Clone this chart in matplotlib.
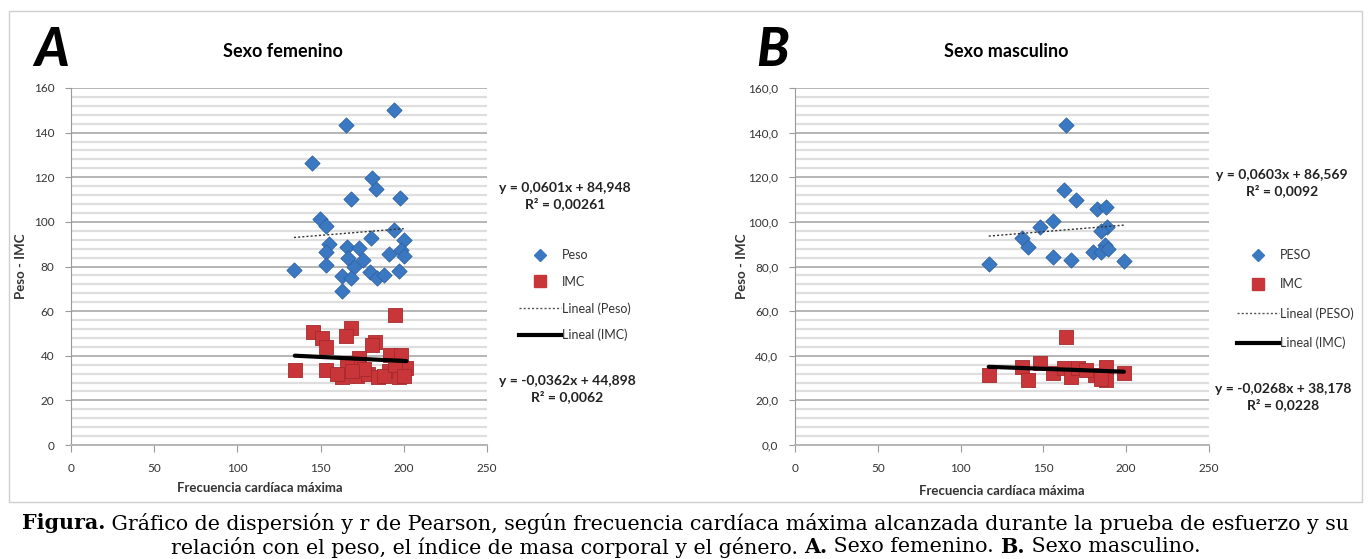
import numpy as np
import matplotlib.pyplot as plt
from matplotlib.lines import Line2D
from matplotlib.patches import Rectangle

# panel A - sexo femenino
fem_fc_peso = [194, 165, 145, 180.6, 183, 168, 198, 149.5, 153, 194, 180, 200, 155, 166, 173,
               153, 191, 198.6, 200, 166.5, 175.5, 170, 153, 134, 179.6, 197, 162.6, 183.6, 188,
               168, 162.6]
fem_peso = [150.2, 143.2, 126.3, 119.6, 114.8, 110.2, 110.9, 101.3, 98.2, 96.4, 92.7, 91.9, 90.1,
            88.9, 88.2, 86.7, 85.6, 87.4, 84.9, 83.7, 82.7, 80, 80.7, 78.5, 77.7, 78.2, 75.9,
            74.7, 76.2, 75, 69]
fem_fc_imc = [194.6, 145.5, 168, 150.6, 165, 153.5, 182.6, 181, 191.6, 198.6, 173, 134.5, 153.5,
              165.6, 162.6, 171.6, 178.6, 184.6, 191, 197, 201.6, 160, 176, 188, 195, 200, 169]
fem_imc = [58.3, 50.8, 52.3, 47.8, 49, 44.1, 46.3, 44.8, 40.4, 40.4, 38.9, 33.6, 33.6,
           36.6, 30.3, 30.9, 32, 30.3, 33, 30.3, 34.4, 32, 34, 31, 36, 31, 33]

# panel B - sexo masculino
mas_fc_peso = [163.6, 162.6, 169.7, 182.4, 187.9, 155.6, 147.9, 188.5, 184.8, 136.8, 140.8,
               186.9, 179.8, 184.8, 189.3, 155.6, 166.7, 198.6, 117]
mas_peso = [143.2, 114.3, 109.9, 105.8, 106.6, 100.2, 97.6, 97.9, 96.1, 92.7, 88.9,
            89.7, 86.7, 86.7, 87.7, 84.4, 83, 82.6, 81.2]
mas_fc_imc = [163.6, 136.8, 140.4, 148, 155.6, 162.6, 166.7, 170.7, 180.9, 187.9, 187.9, 184.8,
              198.6, 117, 176]
mas_imc = [48.6, 35.1, 29.1, 36.6, 32.1, 34.4, 30.6, 34.4, 31.4, 35.1, 29.1, 29.7,
           32.1, 31.5, 33.5]

# linear fits shown on the chart (slope, intercept)
fem_fit_peso = (0.0601, 84.948)
fem_fit_imc = (-0.0362, 44.898)
mas_fit_peso = (0.0603, 86.569)
mas_fit_imc = (-0.0268, 38.178)

fem_eq = ["y = 0,0601x + 84,948\nR² = 0,00261", "y = -0,0362x + 44,898\nR² = 0,0062"]
mas_eq = ["y = 0,0603x + 86,569\nR² = 0,0092", "y = -0,0268x + 38,178\nR² = 0,0228"]

caption_1 = [("Figura.", True), (" Gráfico de dispersión y r de Pearson, según frecuencia "
             "cardíaca máxima alcanzada durante la prueba de esfuerzo y su", False)]
caption_2 = [("relación con el peso, el índice de masa corporal y el género. ", False),
             ("A.", True), (" Sexo femenino. ", False), ("B.", True), (" Sexo masculino.", False)]

blue = "#3b78c2"
red = "#c8363a"
sans = ["Lato", "DejaVu Sans"]

W, H = 1371, 559
fig = plt.figure(figsize=(W / 100, H / 100), dpi=100)


def px(x, y):
    return x / W, 1 - y / H


def make_panel(rect, fc_peso, peso, fc_imc, imc, fit_peso, fit_imc, decimals):
    ax = fig.add_axes(rect)
    ax.set_xlim(0, 250)
    ax.set_ylim(0, 160)
    ax.set_yticks(np.arange(0, 161, 20))
    ax.set_yticks(np.arange(0, 161, 4), minor=True)
    ax.set_xticks(np.arange(0, 251, 50))
    ax.grid(axis="y", which="minor", color="#dedede", lw=1.6, zorder=0)
    ax.grid(axis="y", which="major", color="#b5b5b5", lw=1.4, zorder=0)
    for s in ["top", "right"]:
        ax.spines[s].set_visible(False)
    ax.spines["left"].set_color("#9a9a9a")
    ax.spines["bottom"].set_color("#b5b5b5")
    ax.spines["bottom"].set_linewidth(1.4)
    ax.tick_params(axis="y", which="minor", length=0)
    ax.tick_params(axis="y", which="major", length=4, color="#9a9a9a", labelsize=8.5,
                   labelcolor="#333333", pad=8)
    ax.tick_params(axis="x", length=5, color="#9a9a9a", labelsize=8.5,
                   labelcolor="#333333", pad=8)
    if decimals:
        ax.set_yticklabels([f"{v:.1f}".replace(".", ",") for v in np.arange(0, 161, 20)])
    for lab in ax.get_xticklabels() + ax.get_yticklabels():
        lab.set_family(sans)

    ax.scatter(fc_peso, peso, marker="D", s=60, color=blue, edgecolor="#2f62a3",
               linewidth=0.6, zorder=3)
    ax.scatter(fc_imc, imc, marker="s", s=110, color=red, edgecolor="#a52a2d",
               linewidth=0.6, zorder=3)

    xs = np.array([min(fc_peso), max(fc_peso)])
    ax.plot(xs, fit_peso[0] * xs + fit_peso[1], color="#333333", lw=1, ls=(0, (1.5, 1.5)),
            zorder=4)
    xi = np.array([min(fc_imc), max(fc_imc)])
    ax.plot(xi, fit_imc[0] * xi + fit_imc[1], color="black", lw=3, solid_capstyle="round",
            zorder=4)
    return ax


def add_legend(ax, labels, anchor, spacing):
    handles = [
        Line2D([], [], marker="D", ls="none", color=blue, markersize=6),
        Line2D([], [], marker="s", ls="none", color=red, markersize=8),
        Line2D([], [], color="#555555", lw=1, ls=(0, (1.5, 1.5))),
        Line2D([], [], color="black", lw=3),
    ]
    leg = ax.legend(handles, labels, loc="upper left", bbox_to_anchor=anchor,
                    bbox_transform=fig.transFigure, frameon=False, handlelength=3.3,
                    handletextpad=0.1, labelspacing=spacing, prop={"family": sans, "size": 9})
    for t in leg.get_texts():
        t.set_color("#333333")


axA = make_panel([71 / W, 1 - 445 / H, (487 - 71) / W, (445 - 88) / H],
                 fem_fc_peso, fem_peso, fem_fc_imc, fem_imc, fem_fit_peso, fem_fit_imc, False)
axB = make_panel([795 / W, 1 - 445 / H, (1209 - 795) / W, (445 - 88) / H],
                 mas_fc_peso, mas_peso, mas_fc_imc, mas_imc, mas_fit_peso, mas_fit_imc, True)

add_legend(axA, ["Peso", "IMC", "Lineal (Peso)", "Lineal (IMC)"], px(508, 238), 1.15)
add_legend(axB, ["PESO", "IMC", "Lineal (PESO)", "Lineal (IMC)"], px(1226, 238), 1.35)

# equations
for (x, y), s in zip([(565, 196), (567, 389)], fem_eq):
    fig.text(*px(x, y), s, ha="center", va="center", fontsize=10, fontweight="bold",
             family=sans, color="#222222", linespacing=1.25)
for (x, y), s in zip([(1282, 183), (1283, 397)], mas_eq):
    fig.text(*px(x, y), s, ha="center", va="center", fontsize=10, fontweight="bold",
             family=sans, color="#222222", linespacing=1.25)

# titles and labels
fig.text(*px(283, 52), "Sexo femenino", ha="center", va="center", fontsize=13,
         fontweight="bold", family=sans)
fig.text(*px(1006, 52), "Sexo masculino", ha="center", va="center", fontsize=13,
         fontweight="bold", family=sans)
fig.text(*px(52, 50), "A", ha="center", va="center", fontsize=38, fontweight="black",
         style="italic", family=sans)
fig.text(*px(773, 50), "B", ha="center", va="center", fontsize=38, fontweight="black",
         style="italic", family=sans)
fig.text(*px(21, 266), "Peso - IMC", rotation=90, ha="center", va="center", fontsize=9.5,
         fontweight="bold", family=sans, color="#333333")
fig.text(*px(742, 266), "Peso - IMC", rotation=90, ha="center", va="center", fontsize=9.5,
         fontweight="bold", family=sans, color="#333333")
fig.text(*px(260, 488), "Frecuencia cardíaca máxima", ha="center", va="center",
         fontsize=9.5, fontweight="bold", family=sans, color="#333333")
fig.text(*px(1002, 491), "Frecuencia cardíaca máxima", ha="center", va="center",
         fontsize=9.5, fontweight="bold", family=sans, color="#333333")

# outer frame of the chart area
fig.patches.append(Rectangle(px(9, 502), 1353 / W, 491 / H, transform=fig.transFigure,
                             fill=False, edgecolor="#cfcfcf", lw=1))

# caption, built piece by piece so bold and regular parts sit side by side
serif = "DejaVu Serif"
renderer = fig.canvas.get_renderer()


def caption_line(pieces, y, size):
    texts = [fig.text(0, px(0, y)[1], s, ha="left", va="center", fontsize=size,
                      family=serif, fontweight="bold" if b else "normal")
             for s, b in pieces]
    widths = [t.get_window_extent(renderer).width for t in texts]
    x = (W - sum(widths)) / 2
    for t, w in zip(texts, widths):
        t.set_x(x / W)
        x += w
    return sum(widths)


probe = caption_line(caption_1, 523, 10)
for t in fig.texts[-2:]:
    t.remove()
cap_size = 10 * 1334 / probe
caption_line(caption_1, 523, cap_size)
caption_line(caption_2, 547, cap_size)

fig.savefig("out.png", dpi=100)
